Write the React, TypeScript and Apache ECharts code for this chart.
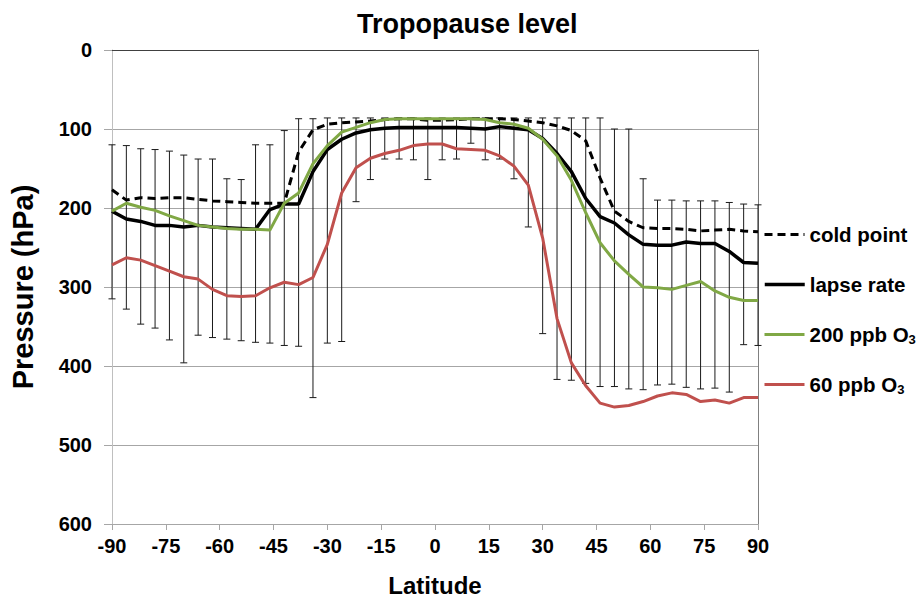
import React, { useEffect, useRef } from "react";
import * as echarts from "echarts";

const latitudes = [-90, -86, -82, -78, -74, -70, -66, -62, -58, -54, -50, -46, -42, -38, -34, -30, -26, -22, -18, -14, -10, -6, -2, 2, 6, 10, 14, 18, 22, 26, 30, 34, 38, 42, 46, 50, 54, 58, 62, 66, 70, 74, 78, 82, 86, 90];

const coldPoint = [177, 190, 187, 188, 187, 187, 189, 191, 192, 193, 194, 194, 194, 129, 101, 94, 92, 91, 90, 88, 87, 87, 89, 89, 88, 87, 87, 87, 88, 90, 92, 96, 102, 115, 162, 204, 217, 225, 226, 226, 227, 229, 228, 227, 229, 230];

const lapseRate = [204, 214, 217, 222, 222, 224, 222, 224, 225, 226, 227, 202, 195, 195, 154, 126, 113, 105, 101, 99, 98, 98, 98, 98, 98, 99, 100, 97, 99, 101, 112, 131, 154, 188, 211, 219, 234, 246, 247, 247, 243, 245, 245, 255, 269, 270];

const ozone200 = [204, 194, 199, 203, 210, 216, 222, 224, 226, 227, 227, 228, 194, 181, 144, 121, 104, 98, 92, 88, 87, 87, 87, 87, 87, 87, 88, 92, 94, 99, 113, 134, 165, 206, 244, 267, 284, 300, 301, 303, 298, 293, 305, 313, 317, 317];

const ozone60 = [272, 263, 266, 273, 280, 287, 290, 303, 311, 312, 311, 301, 294, 297, 288, 246, 181, 149, 137, 131, 127, 121, 119, 119, 125, 126, 127, 134, 147, 171, 238, 340, 396, 425, 447, 452, 450, 445, 438, 434, 436, 445, 443, 447, 440, 440];

const errTop = [120, 121, 125, 126, 128, 133, 138, 138, 163, 164, 120, 120, 102, 87, 87, 86, 86, 86, 86, 86, 86, 86, 86, 86, 86, 86, 86, 86, 86, 86, 86, 86, 86, 86, 86, 100, 100, 163, 190, 190, 191, 191, 191, 193, 195, 196];

const errBottom = [315, 328, 347, 352, 367, 396, 361, 364, 366, 368, 370, 371, 374, 375, 440, 371, 369, 192, 164, 138, 138, 139, 164, 139, 138, 118, 139, 138, 163, 224, 359, 417, 418, 422, 426, 426, 429, 430, 424, 423, 427, 429, 428, 433, 373, 374];

const xTicks = { min: -90, max: 90, interval: 15 };
const yTicks = { min: 0, max: 600, interval: 100 };

const seriesNames = ["cold point", "lapse rate", "200 ppb O3", "60 ppb O3"];

const FONT = "'Liberation Sans', Arial, sans-serif";

function pairs(values: number[]) {
  return latitudes.map((lat, i) => [lat, values[i]]);
}

export default function App() {
  const ref = useRef<HTMLDivElement>(null);

  useEffect(() => {
    const chart = echarts.init(ref.current!, null, { renderer: "svg" });

    const legendCenters = [236, 286, 336, 386];
    const legendWidths = [3, 3.5, 3, 3];
    const legends = seriesNames.map((name, i) => ({
      data: [name],
      left: 763,
      top: legendCenters[i] - 12,
      orient: "vertical",
      padding: 0,
      itemWidth: 40,
      itemHeight: 14,
      itemGap: 5,
      selectedMode: false,
      itemStyle: { opacity: 0 },
      lineStyle: { width: legendWidths[i] },
      formatter: (n: string) =>
        n.endsWith("O3") ? `{b|${n.slice(0, -1)}}{s|3}` : `{b|${n}}`,
      textStyle: {
        fontFamily: FONT,
        fontSize: 20.5,
        fontWeight: "bold",
        color: "#000",
        rich: {
          b: { fontFamily: FONT, fontSize: 20.5, fontWeight: "bold", color: "#000", lineHeight: 24 },
          s: { fontFamily: FONT, fontSize: 13, fontWeight: "bold", color: "#000", padding: [10, 0, 0, 0] },
        },
      },
    }));

    const option: any = {
      animation: false,
      backgroundColor: "#fff",
      title: {
        text: "Tropopause level",
        left: 352,
        top: 5,
        textStyle: { fontFamily: FONT, fontSize: 27, fontWeight: "bold", color: "#000" },
      },
      legend: legends,
      grid: { left: 108, right: 159, top: 50, bottom: 73 },
      xAxis: [
        {
          type: "value",
          position: "bottom",
          ...xTicks,
          name: "Latitude",
          nameLocation: "middle",
          nameGap: 49,
          nameTextStyle: { fontFamily: FONT, fontSize: 24, fontWeight: "bold", color: "#000" },
          axisLine: { show: true, onZero: false, lineStyle: { color: "#a6a6a6", width: 1 } },
          axisTick: { show: true, length: 6, lineStyle: { color: "#a6a6a6" } },
          axisLabel: { fontFamily: FONT, fontSize: 20, fontWeight: "bold", color: "#000", margin: 12 },
          splitLine: { show: false },
        },
        {
          type: "value",
          position: "top",
          ...xTicks,
          axisLine: { show: true, onZero: false, lineStyle: { color: "#404040", width: 1 } },
          axisTick: { show: false },
          axisLabel: { show: false },
          splitLine: { show: false },
        },
      ],
      yAxis: [
        {
          type: "value",
          inverse: true,
          ...yTicks,
          name: "Pressure (hPa)",
          nameLocation: "middle",
          nameRotate: 90,
          nameGap: 75,
          nameTextStyle: { fontFamily: FONT, fontSize: 29, fontWeight: "bold", color: "#000" },
          axisLine: { show: true, onZero: false, lineStyle: { color: "#bfbfbf", width: 1 } },
          axisTick: { show: true, length: 8, lineStyle: { color: "#a6a6a6" } },
          axisLabel: { fontFamily: FONT, fontSize: 20, fontWeight: "bold", color: "#000", margin: 20 },
          splitLine: { show: true, lineStyle: { color: "#a6a6a6", width: 1 } },
        },
        {
          type: "value",
          inverse: true,
          position: "right",
          ...yTicks,
          axisLine: { show: true, onZero: false, lineStyle: { color: "#808080", width: 1 } },
          axisTick: { show: false },
          axisLabel: { show: false },
          splitLine: { show: false },
        },
      ],
      series: [
        {
          type: "custom",
          name: "range",
          xAxisIndex: 0,
          yAxisIndex: 0,
          encode: { x: 0, y: [1, 2] },
          data: latitudes.map((lat, i) => [lat, errTop[i], errBottom[i]]),
          renderItem: (params: any, api: any) => {
            const x = api.value(0);
            const a = api.coord([x, api.value(1)]);
            const b = api.coord([x, api.value(2)]);
            const half = 3.5;
            const st = { stroke: "#1a1a1a", lineWidth: 1 };
            return {
              type: "group",
              children: [
                { type: "line", shape: { x1: a[0], y1: a[1], x2: b[0], y2: b[1] }, style: st },
                { type: "line", shape: { x1: a[0] - half, y1: a[1], x2: a[0] + half, y2: a[1] }, style: st },
                { type: "line", shape: { x1: b[0] - half, y1: b[1], x2: b[0] + half, y2: b[1] }, style: st },
              ],
            };
          },
          z: 1,
        },
        {
          type: "line",
          name: seriesNames[0],
          data: pairs(coldPoint),
          symbol: "none",
          color: "#000",
          lineStyle: { color: "#000", width: 3, type: [8, 5] },
          z: 3,
        },
        {
          type: "line",
          name: seriesNames[1],
          data: pairs(lapseRate),
          symbol: "none",
          color: "#000",
          lineStyle: { color: "#000", width: 3.5 },
          z: 3,
        },
        {
          type: "line",
          name: seriesNames[2],
          data: pairs(ozone200),
          symbol: "none",
          color: "#80a845",
          lineStyle: { color: "#80a845", width: 3 },
          z: 3,
        },
        {
          type: "line",
          name: seriesNames[3],
          data: pairs(ozone60),
          symbol: "none",
          color: "#c0504d",
          lineStyle: { color: "#c0504d", width: 3 },
          z: 3,
        },
      ],
    };

    chart.setOption(option);
    return () => chart.dispose();
  }, []);

  return (
    <div
      ref={ref}
      style={{ position: "fixed", left: 0, top: 0, width: 917, height: 602 }}
    />
  );
}
